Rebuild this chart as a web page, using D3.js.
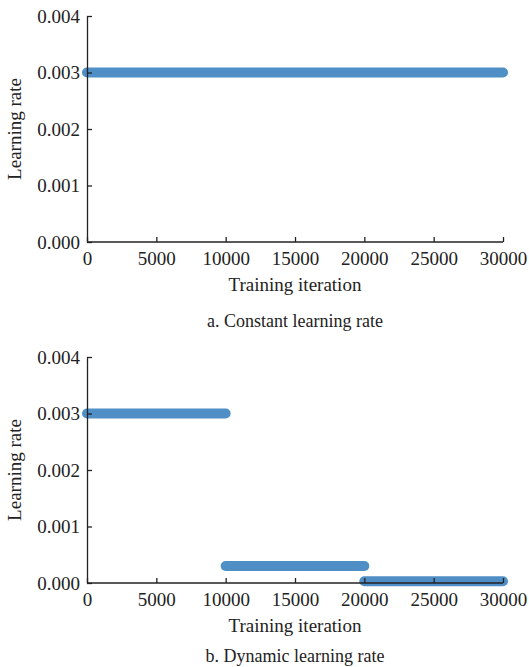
<!DOCTYPE html>
<html>
<head>
<meta charset="utf-8">
<script src="https://cdn.jsdelivr.net/npm/d3@7"></script>
<style>
body { margin: 0; background: #fff; }
text { font-family: "Liberation Serif", "Times New Roman", serif; fill: #222; }
.axis path, .axis line { stroke: #222; stroke-width: 1.3; }
</style>
</head>
<body>
<svg id="chart" width="529" height="667"></svg>
<script>
// tick values
var xTicks = [0, 5000, 10000, 15000, 20000, 25000, 30000];
var yTicks = [0, 0.001, 0.002, 0.003, 0.004];

// panel a: constant learning rate, segments [start, end, rate]
var constantSegments = [[0, 30000, 0.003]];
// panel b: dynamic learning rate
var dynamicSegments = [
	[0, 10000, 0.003],
	[10000, 20000, 0.0003],
	[20000, 30000, 0.00003]
];

var panelTitles = ["a. Constant learning rate", "b. Dynamic learning rate"];

var svg = d3.select("#chart");
var plot = {left: 87, right: 503, height: 226};
var panelTops = [16, 357];
var titleOffsets = [85, 79];
var color = "#4f8fc6";

var x = d3.scaleLinear().domain([0, 30000]).range([plot.left, plot.right]);

[constantSegments, dynamicSegments].forEach(function(segs, i) {
	var top = panelTops[i];
	var y = d3.scaleLinear().domain([0, 0.004]).range([top + plot.height, top]);
	var g = svg.append("g");

	// segments as thick rounded lines (dense markers in the original)
	g.selectAll(".seg")
		.data(segs)
		.enter().append("line")
			.attr("class", "seg")
			.attr("x1", function(d) { return x(d[0]); })
			.attr("x2", function(d) { return x(d[1]); })
			.attr("y1", function(d) { return y(d[2]); })
			.attr("y2", function(d) { return y(d[2]); })
			.attr("stroke", color)
			.attr("stroke-width", 10)
			.attr("stroke-linecap", "round");

	var xAxis = g.append("g")
		.attr("class", "axis")
		.attr("transform", "translate(0," + (top + plot.height) + ")")
		.call(d3.axisBottom(x).tickValues(xTicks).tickFormat(d3.format("d")).tickSizeInner(-5).tickSizeOuter(0).tickPadding(10));
	xAxis.selectAll("text").style("font-size", "19px").attr("fill", "#222");
	xAxis.select(".domain").attr("d", "M" + plot.left + ",0H" + plot.right);

	var yAxis = g.append("g")
		.attr("class", "axis")
		.attr("transform", "translate(" + plot.left + ",0)")
		.call(d3.axisLeft(y).tickValues(yTicks).tickFormat(d3.format(".3f")).tickSizeInner(-5).tickSizeOuter(0).tickPadding(7));
	yAxis.selectAll("text").style("font-size", "19px").attr("fill", "#222");

	g.append("text")
		.attr("x", (plot.left + plot.right) / 2)
		.attr("y", top + plot.height + 49)
		.attr("text-anchor", "middle")
		.style("font-size", "19px")
		.text("Training iteration");

	g.append("text")
		.attr("transform", "translate(21," + (top + plot.height / 2) + ") rotate(-90)")
		.attr("text-anchor", "middle")
		.style("font-size", "19px")
		.text("Learning rate");

	g.append("text")
		.attr("x", (plot.left + plot.right) / 2)
		.attr("y", top + plot.height + titleOffsets[i])
		.attr("text-anchor", "middle")
		.style("font-size", "18px")
		.text(panelTitles[i]);
});
</script>
</body>
</html>
